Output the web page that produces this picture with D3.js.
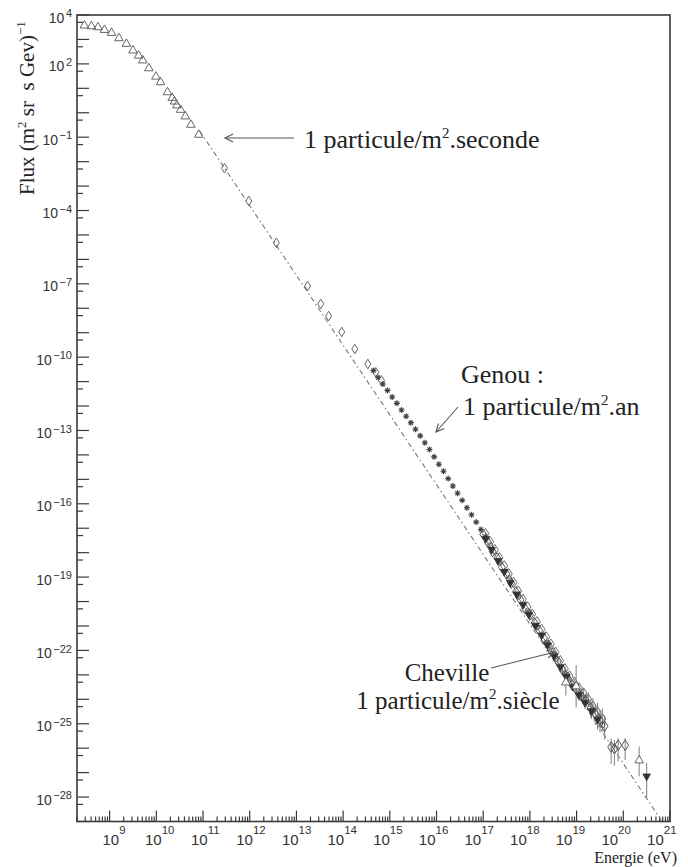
<!DOCTYPE html>
<html>
<head>
<meta charset="utf-8">
<script src="https://cdn.jsdelivr.net/npm/d3@7"></script>
<style>
        body { margin: 0; background: #fff; }
        svg { display: block; }
</style>
</head>
<body>
<script>
// all values are log10 : energy in eV, flux in (m2 sr s GeV)^-1

// open triangles, low energy
lowE = [8.46, 8.61, 8.75, 8.89, 9.04, 9.20, 9.36, 9.50, 9.62, 9.71, 9.84, 9.99, 10.09, 10.24, 10.34, 10.39, 10.44, 10.52, 10.62, 10.74, 10.91]
lowF = [3.59, 3.56, 3.52, 3.41, 3.29, 3.07, 2.84, 2.57, 2.36, 2.16, 1.84, 1.50, 1.27, 0.86, 0.63, 0.48, 0.32, 0.14, -0.13, -0.47, -0.88]

// open diamonds, middle energies
midE = [11.46, 11.98, 12.57, 13.24, 13.52, 13.69, 13.97, 14.25, 14.53, 14.70, 14.82]
midF = [-2.27, -3.61, -5.32, -7.09, -7.82, -8.32, -8.97, -9.67, -10.28, -10.62, -10.95]

// asterisks around the knee
starE = [14.65, 14.75, 14.85, 14.95, 15.05, 15.15, 15.25, 15.35, 15.45, 15.55, 15.65, 15.75, 15.85, 15.95, 16.05, 16.15, 16.25, 16.35, 16.45, 16.55, 16.65, 16.75, 16.85, 16.95, 17.05]
starF = [-10.55, -10.83, -11.10, -11.36, -11.63, -11.89, -12.16, -12.42, -12.68, -12.95, -13.22, -13.50, -13.78, -14.08, -14.38, -14.67, -14.97, -15.27, -15.57, -15.86, -16.16, -16.45, -16.75, -17.05, -17.35]

// open diamonds, high energies (with error bars)
hiDE = [17.00, 17.10, 17.20, 17.30, 17.40, 17.50, 17.60, 17.70, 17.80, 17.90, 18.00, 18.10, 18.20, 18.30, 18.40, 18.50, 18.60, 18.70, 18.80, 18.90, 19.00, 19.10, 19.20, 19.30, 19.40, 19.50, 19.60, 19.74, 19.81, 19.89, 20.04]
hiDF = [-17.25, -17.58, -17.95, -18.22, -18.60, -18.88, -19.25, -19.60, -19.93, -20.30, -20.55, -20.88, -21.18, -21.50, -21.80, -22.10, -22.45, -22.80, -23.10, -23.40, -23.62, -23.85, -24.05, -24.35, -24.60, -24.85, -25.10, -25.95, -26.02, -25.88, -25.88]
hiDUp = [0, 0, 0, 0, 0, 0, 0, 0, 0, 0, 0, 0, 0, 0, 0, 0.08, 0.10, 0.12, 0.15, 0.18, 0.20, 0.25, 0.30, 0.35, 0.40, 0.40, 0.45, 0.35, 0.35, 0.30, 0.30]
hiDDn = [0, 0, 0, 0, 0, 0, 0, 0, 0, 0, 0, 0, 0, 0, 0, 0.08, 0.10, 0.12, 0.15, 0.18, 0.20, 0.25, 0.30, 0.40, 0.45, 0.50, 0.55, 0.70, 0.70, 0.65, 0.60]

// second set of open diamonds, high energies
hiD2E = [17.05, 17.15, 17.25, 17.35, 17.45, 17.55, 17.65, 17.75, 17.85, 17.95, 18.05, 18.15, 18.25, 18.35, 18.45, 18.55, 18.65, 18.75, 18.85, 18.95, 19.05, 19.15, 19.25, 19.35, 19.45, 19.55]
hiD2F = [-17.22, -17.56, -17.88, -18.21, -18.54, -18.87, -19.22, -19.57, -19.91, -20.22, -20.52, -20.83, -21.14, -21.45, -21.75, -22.08, -22.42, -22.75, -23.05, -23.31, -23.54, -23.75, -24.00, -24.28, -24.52, -24.80]
hiD2Up = [0, 0, 0, 0, 0, 0, 0, 0, 0, 0, 0, 0, 0, 0, 0, 0.06, 0.08, 0.10, 0.12, 0.15, 0.18, 0.22, 0.28, 0.32, 0.38, 0.42]
hiD2Dn = [0, 0, 0, 0, 0, 0, 0, 0, 0, 0, 0, 0, 0, 0, 0, 0.06, 0.08, 0.10, 0.12, 0.15, 0.18, 0.22, 0.30, 0.38, 0.45, 0.55]

// filled down triangles
hiTE = [17.05, 17.18, 17.32, 17.45, 17.58, 17.72, 17.85, 17.98, 18.12, 18.25, 18.38, 18.52, 18.65, 18.78, 18.92, 19.05, 19.18, 19.32, 19.45, 20.50]
hiTF = [-17.45, -17.90, -18.35, -18.80, -19.25, -19.72, -20.15, -20.55, -21.00, -21.40, -21.80, -22.25, -22.70, -23.10, -23.50, -23.85, -24.15, -24.50, -24.85, -27.17]
hiTUp = [0, 0, 0, 0, 0, 0, 0, 0, 0, 0, 0, 0, 0.10, 0.12, 0.15, 0.20, 0.25, 0.30, 0.35, 0.57]
hiTDn = [0, 0, 0, 0, 0, 0, 0, 0, 0, 0, 0, 0, 0.10, 0.12, 0.15, 0.20, 0.25, 0.30, 0.40, 0.87]

// small open circles
hiCE = [17.15, 17.35, 17.55, 17.75, 17.95, 18.15, 18.35, 18.55, 18.75, 18.95, 19.15, 19.35, 19.55]
hiCF = [-17.70, -18.40, -19.05, -19.80, -20.40, -21.05, -21.70, -22.35, -22.95, -23.55, -23.95, -24.45, -25.05]

// open triangles, highest energies
agE = [18.77, 18.99, 20.34]
agF = [-23.29, -23.45, -26.48]
agUp = [0.50, 0.85, 0.55]
agDn = [0.55, 0.90, 0.68]

// dash-dotted power law
refE = [10.93, 20.83]
refF = [-0.75, -29.0]

// tick labels (exponents)
xLabelExp = [9, 10, 11, 12, 13, 14, 15, 16, 17, 18, 19, 20, 21]
yLabelExp = [4, 2, -1, -4, -7, -10, -13, -16, -19, -22, -25, -28]

sans = "'Liberation Sans', Arial, Helvetica, sans-serif"
serif = "'Liberation Serif', 'Times New Roman', serif"
ink = "#222"
markColor = "#666"

x = d3.scaleLog().domain([2e8, 1e21]).range([77, 670])
y = d3.scaleLog().domain([1e-29, 1e4]).range([821.5, 15])

function pts(E, F, up, dn) {
        return E.map(function(e, i) {
                return {
                        x: Math.pow(10, e),
                        y: Math.pow(10, F[i]),
                        hi: up ? Math.pow(10, F[i] + up[i]) : null,
                        lo: dn ? Math.pow(10, F[i] - dn[i]) : null
                }
        })
}

function fmtExp(e) {
        return e < 0 ? "\u2212" + (-e) : "" + e
}

svg = d3.select("body").append("svg")
        .attr("width", 688)
        .attr("height", 867)

svg.append("defs").append("clipPath").attr("id", "plot")
        .append("rect")
        .attr("x", x.range()[0]).attr("y", y.range()[1])
        .attr("width", x.range()[1] - x.range()[0])
        .attr("height", y.range()[0] - y.range()[1])

// ---- axes ----
axes = svg.append("g").attr("stroke", "#3a3a3a")

for (e = 8; e <= 21; e++) {
        for (m = 1; m <= 9; m++) {
                v = m * Math.pow(10, e)
                if (v < x.domain()[0] * 0.999 || v > x.domain()[1] * 1.001) continue
                axes.append("line")
                        .attr("x1", x(v)).attr("x2", x(v))
                        .attr("y1", y.range()[0]).attr("y2", y.range()[0] - (m == 1 ? 11 : 5))
                        .attr("stroke-width", 1.2)
        }
}

for (e = -29; e <= 4; e++) {
        v = Math.pow(10, e)
        axes.append("line")
                .attr("x1", x.range()[0]).attr("x2", x.range()[0] + 12)
                .attr("y1", y(v)).attr("y2", y(v))
                .attr("stroke-width", 1.2)
        v2 = v * 0.5
        if (v2 > y.domain()[0]) {
                axes.append("line")
                        .attr("x1", x.range()[0]).attr("x2", x.range()[0] + 6)
                        .attr("y1", y(v2)).attr("y2", y(v2))
                        .attr("stroke-width", 1.2)
        }
}

axes.append("rect")
        .attr("x", x.range()[0]).attr("y", y.range()[1])
        .attr("width", x.range()[1] - x.range()[0])
        .attr("height", y.range()[0] - y.range()[1])
        .attr("fill", "none")
        .attr("stroke-width", 1.6)

xl = svg.append("g").attr("font-family", sans).attr("fill", "#333")
        .selectAll("text").data(xLabelExp).enter().append("text")
        .attr("text-anchor", "middle")
        .attr("x", function(d) { return x(Math.pow(10, d)) + 4.4 - (d - 9) * 1.05 })
        .attr("y", 845)
xl.append("tspan").attr("font-size", 15).text("10")
xl.append("tspan").attr("font-size", 11.5).attr("dy", -11).text(function(d) { return fmtExp(d) })

yl = svg.append("g").attr("font-family", sans).attr("fill", "#333")
        .selectAll("text").data(yLabelExp).enter().append("text")
        .attr("text-anchor", "end")
        .attr("x", 72)
        .attr("y", function(d) { return y(Math.pow(10, d)) + 7.6 })
yl.append("tspan").attr("font-size", 14).text("10")
yl.append("tspan").attr("font-size", 11).attr("dx", 1.5).attr("dy", -5.5).text(function(d) { return fmtExp(d) })

svg.append("text")
        .attr("font-family", serif).attr("font-size", 16).attr("fill", ink)
        .attr("text-anchor", "end")
        .attr("x", 677).attr("y", 863)
        .text("Energie (eV)")

yt = svg.append("text")
        .attr("font-family", serif).attr("font-size", 21).attr("fill", ink)
        .attr("transform", "translate(34,195) rotate(-90)")
yt.append("tspan").text("Flux (m")
yt.append("tspan").attr("font-size", 13).attr("dy", -8).text("2")
yt.append("tspan").attr("dy", 8).text(" sr\u00a0\u00a0s Gev)")
yt.append("tspan").attr("font-size", 13).attr("dy", -9).text("\u22121")

// ---- data ----
plot = svg.append("g").attr("clip-path", "url(#plot)")

refLine = d3.line()
        .x(function(d) { return x(d.x) })
        .y(function(d) { return y(d.y) })
plot.append("path")
        .datum(pts(refE, refF))
        .attr("d", refLine)
        .attr("fill", "none")
        .attr("stroke", "#777")
        .attr("stroke-width", 1.1)
        .attr("stroke-dasharray", "5,3,1.5,3")

function errorBars(data) {
        plot.append("g").selectAll("line")
                .data(data.filter(function(d) { return d.hi != null && d.hi > d.y * 1.01 }))
                .enter().append("line")
                .attr("x1", function(d) { return x(d.x) })
                .attr("x2", function(d) { return x(d.x) })
                .attr("y1", function(d) { return y(d.hi) })
                .attr("y2", function(d) { return y(d.lo) })
                .attr("stroke", "#8a8a8a")
                .attr("stroke-width", 1.1)
}

function markers(data, shape, fill, stroke, sw) {
        plot.append("g").selectAll("path")
                .data(data).enter().append("path")
                .attr("d", shape)
                .attr("transform", function(d) { return "translate(" + x(d.x) + "," + y(d.y) + ")" })
                .attr("fill", fill)
                .attr("stroke", stroke)
                .attr("stroke-width", sw)
}

triUp = "M0,-4.5L4.3,3L-4.3,3Z"
triDown = "M-3.8,-2.8L3.8,-2.8L0,4Z"
diamond = "M0,-4.8L3,0L0,4.8L-3,0Z"
bigDiamond = "M0,-5.3L3.4,0L0,5.3L-3.4,0Z"
asterisk = "M-3,0H3M0,-3V3M-2.1,-2.1L2.1,2.1M-2.1,2.1L2.1,-2.1"
circle = d3.symbol().type(d3.symbolCircle).size(22)()

hiD = pts(hiDE, hiDF, hiDUp, hiDDn)
hiD2 = pts(hiD2E, hiD2F, hiD2Up, hiD2Dn)
hiT = pts(hiTE, hiTF, hiTUp, hiTDn)
ag = pts(agE, agF, agUp, agDn)
errorBars(hiD)
errorBars(hiD2)
errorBars(hiT)
errorBars(ag)

markers(pts(lowE, lowF), triUp, "none", markColor, 1)
markers(pts(midE, midF), diamond, "none", markColor, 1)
markers(pts(starE, starF), asterisk, "none", "#444", 1.1)
markers(pts(hiCE, hiCF), circle, "none", "#555", 1)
markers(hiD2, bigDiamond, "none", "#707070", 1)
markers(hiD, bigDiamond, "none", "#555", 1)
markers(hiT, triDown, "#333", "#333", 0.8)
markers(ag, triUp, "white", markColor, 1)

// ---- annotations ----
function arrow(x1, y1, x2, y2) {
        var a = Math.atan2(y1 - y2, x1 - x2)
        var len = 9, sp = 0.45
        var g = svg.append("g").attr("stroke", "#555").attr("stroke-width", 1.1).attr("fill", "none")
        g.append("line").attr("x1", x1).attr("y1", y1).attr("x2", x2).attr("y2", y2)
        g.append("path").attr("d", "M" + (x2 + len * Math.cos(a + sp)) + "," + (y2 + len * Math.sin(a + sp)) +
                "L" + x2 + "," + y2 +
                "L" + (x2 + len * Math.cos(a - sp)) + "," + (y2 + len * Math.sin(a - sp)))
}

function note(xp, yp, parts, anchor, size) {
        var t = svg.append("text")
                .attr("font-family", serif).attr("font-size", size || 26).attr("fill", ink)
                .attr("x", xp).attr("y", yp)
                .attr("text-anchor", anchor || "start")
        t.append("tspan").text(parts[0])
        if (parts.length > 1) {
                t.append("tspan").attr("font-size", 15).attr("dy", -10).text(parts[1])
                t.append("tspan").attr("dy", 10).text(parts[2])
        }
}

arrow(294, 138, 225, 138)
note(304, 148, ["1 particule/m", "2", ".seconde"])

note(461, 383, ["Genou :"])
note(463, 415, ["1 particule/m", "2", ".an"])
arrow(458, 407, 436, 432)

note(447, 681, ["Cheville"], "middle", 25)
note(458, 709, ["1 particule/m", "2", ".si\u00e8cle"], "middle", 25)
arrow(491, 668, 555, 652)
</script>
</body>
</html>
